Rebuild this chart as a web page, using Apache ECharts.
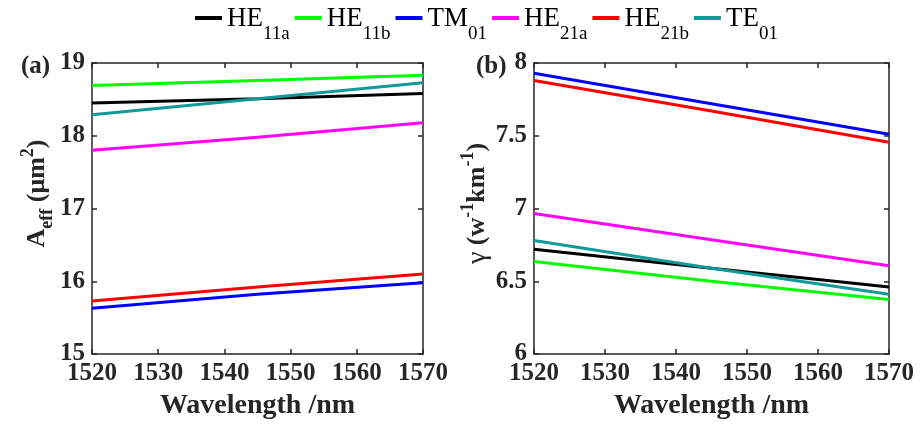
<!DOCTYPE html>
<html>
<head>
<meta charset="utf-8">
<script src="https://cdn.jsdelivr.net/npm/echarts@6/dist/echarts.min.js"></script>
<style>
html,body{margin:0;padding:0;background:#fff;}
#chart{width:921px;height:425px;}
</style>
</head>
<body>
<div id="chart"></div>
<script>
// ---- data ----
const wavelength = [1520, 1545, 1570];
const seriesNames = ['HE11a', 'HE11b', 'TM01', 'HE21a', 'HE21b', 'TE01'];
const legendMain = ['HE', 'HE', 'TM', 'HE', 'HE', 'TE'];
const legendSub = ['11a', '11b', '01', '21a', '21b', '01'];
const colors = ['#000000', '#00ff00', '#0000ff', '#ff00ff', '#ff0000', '#129999'];

// (a) effective area, um^2
const aeffHE11a = [18.45, 18.51, 18.58];
const aeffHE11b = [18.69, 18.76, 18.83];
const aeffTM01  = [15.63, 15.82, 15.98];
const aeffHE21a = [17.80, 17.98, 18.18];
const aeffHE21b = [15.73, 15.92, 16.10];
const aeffTE01  = [18.29, 18.51, 18.73];

// (b) nonlinear coefficient, W^-1 km^-1
const gammaHE11a = [6.72, 6.59, 6.46];
const gammaHE11b = [6.635, 6.50, 6.375];
const gammaTM01  = [7.93, 7.72, 7.51];
const gammaHE21a = [6.965, 6.785, 6.607];
const gammaHE21b = [7.88, 7.67, 7.455];
const gammaTE01  = [6.78, 6.59, 6.41];

const xTicks = [1520, 1530, 1540, 1550, 1560, 1570];
const aeffTicks = [15, 16, 17, 18, 19];
const gammaTicks = [6, 6.5, 7, 7.5, 8];

const aeffData = [aeffHE11a, aeffHE11b, aeffTM01, aeffHE21a, aeffHE21b, aeffTE01];
const gammaData = [gammaHE11a, gammaHE11b, gammaTM01, gammaHE21a, gammaHE21b, gammaTE01];

// ---- chart ----
const FONT = 'Liberation Serif';
const AX = '#262626';
const chart = echarts.init(document.getElementById('chart'), null, {renderer: 'canvas'});

function pairs(ys) { return wavelength.map((x, i) => [x, ys[i]]); }

function xAx(gi, pos, showLabel) {
  return {
    type: 'value', gridIndex: gi, position: pos,
    min: xTicks[0], max: xTicks[xTicks.length - 1], interval: 10,
    axisLine: {show: true, lineStyle: {color: AX, width: 1.5}},
    axisTick: {show: true, inside: true, length: 5, lineStyle: {color: AX, width: 1.5}},
    axisLabel: {show: showLabel, color: AX, fontFamily: FONT, fontWeight: 'bold', fontSize: 25, margin: 7,
      formatter: v => String(v)},
    splitLine: {show: false},
    name: showLabel ? 'Wavelength /nm' : '',
    nameLocation: 'middle', nameGap: 38,
    nameTextStyle: {color: AX, fontFamily: FONT, fontWeight: 'bold', fontSize: 28}
  };
}
function yAx(gi, pos, ticks, interval, showLabel, name, nameGap, nameStyle) {
  return {
    type: 'value', gridIndex: gi, position: pos,
    min: ticks[0], max: ticks[ticks.length - 1], interval: interval,
    axisLine: {show: true, lineStyle: {color: AX, width: 1.5}},
    axisTick: {show: true, inside: true, length: 5, lineStyle: {color: AX, width: 1.5}},
    axisLabel: {show: showLabel, color: AX, fontFamily: FONT, fontWeight: 'bold', fontSize: 25, margin: 7,
      formatter: v => String(v)},
    splitLine: {show: false},
    name: name || '',
    nameLocation: 'middle', nameGap: nameGap || 0, nameRotate: 90,
    nameTextStyle: nameStyle || {}
  };
}

const nameRichBase = {
  b: {fontFamily: FONT, fontWeight: 'bold', fontSize: 26, color: AX, lineHeight: 26, padding: [5, 0, 0, 0], verticalAlign: 'top'},
  g: {fontFamily: FONT, fontSize: 28, color: AX, lineHeight: 26, padding: [5, 0, 0, 0], verticalAlign: 'top'},
  sub: {fontFamily: FONT, fontWeight: 'bold', fontSize: 18, color: AX, lineHeight: 18, padding: [19, 0, 0, 0], verticalAlign: 'top'},
  sup: {fontFamily: FONT, fontWeight: 'bold', fontSize: 18, color: AX, lineHeight: 18, padding: [0, 0, 0, 0], verticalAlign: 'top'}
};

const series = [];
seriesNames.forEach((n, i) => {
  series.push({name: n, type: 'line', xAxisIndex: 0, yAxisIndex: 0, data: pairs(aeffData[i]),
    showSymbol: false, symbol: 'none', lineStyle: {color: colors[i], width: 3}, itemStyle: {color: colors[i]}, z: 3});
  series.push({name: n, type: 'line', xAxisIndex: 2, yAxisIndex: 2, data: pairs(gammaData[i]),
    showSymbol: false, symbol: 'none', lineStyle: {color: colors[i], width: 3}, itemStyle: {color: colors[i]}, z: 3});
});

const option = {
  backgroundColor: '#ffffff',
  animation: false,
  legend: {
    data: seriesNames,
    left: 190, top: 0,
    icon: 'rect', itemWidth: 27, itemHeight: 4, itemGap: 5,
    formatter: function (name) {
      const i = seriesNames.indexOf(name);
      return '{m|' + legendMain[i] + '}{s|' + legendSub[i] + '}';
    },
    textStyle: {
      rich: {
        m: {fontFamily: FONT, fontSize: 27, color: '#000', lineHeight: 26, verticalAlign: 'top'},
        s: {fontFamily: FONT, fontSize: 19, color: '#000', lineHeight: 19, padding: [20, 0, 0, 0], verticalAlign: 'top'}
      }
    }
  },
  title: [
    {text: '(a)', left: 16, top: 49, textStyle: {fontFamily: FONT, fontWeight: 'bold', fontSize: 25, color: AX}},
    {text: '(b)', left: 471, top: 49, textStyle: {fontFamily: FONT, fontWeight: 'bold', fontSize: 25, color: AX}}
  ],
  grid: [
    {left: 92, right: 498, top: 63, bottom: 71},
    {left: 534, right: 32, top: 63, bottom: 71}
  ],
  xAxis: [xAx(0, 'bottom', true), xAx(0, 'top', false), xAx(1, 'bottom', true), xAx(1, 'top', false)],
  yAxis: [
    yAx(0, 'left', aeffTicks, 1, true, '{b|A}{sub|eff}{b| (μm}{sup|2}{b|)}', 46,
      {padding: [0, 0, 0, 30], rich: nameRichBase}),
    yAx(0, 'right', aeffTicks, 1, false),
    yAx(1, 'left', gammaTicks, 0.5, true, '{g|γ}{b| (w}{sup|-1}{b|km}{sup|-1}{b|)}', 38,
      {padding: [0, 0, 0, 10], rich: nameRichBase}),
    yAx(1, 'right', gammaTicks, 0.5, false)
  ],
  series: series
};
chart.setOption(option);
</script>
</body>
</html>
